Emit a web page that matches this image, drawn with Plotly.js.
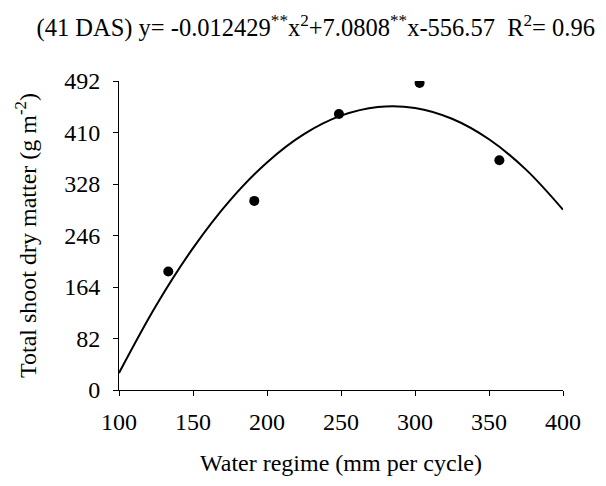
<!DOCTYPE html>
<html>
<head>
<meta charset="utf-8">
<script src="https://cdn.plot.ly/plotly-3.0.1.min.js"></script>
<style>html,body{margin:0;padding:0;background:#fff;}#chart{width:606px;height:486px;}</style>
</head>
<body>
<div id="chart"></div>
<script>
// Observed data points
const waterRegime = [133.3, 191.4, 248.6, 303.1, 357.0];
const shootDryMatter = [188.8, 301.1, 439.5, 488.8, 365.8];

// Fitted quadratic curve values (read at 25 mm steps)
const fitX = [100, 125, 150, 175, 200, 225, 250, 275, 300, 325, 350, 375, 400];
const fitY = [27.2, 134.3, 225.9, 301.9, 362.4, 407.4, 436.8, 450.7, 449.1, 431.9, 399.2, 350.9, 287.1];

const yTicks = [0, 82, 164, 246, 328, 410, 492];
const xTicks = [100, 150, 200, 250, 300, 350, 400];

const titleText = "(41 DAS) y= -0.012429<sup>**</sup>x<sup>2</sup>+7.0808<sup>**</sup>x-556.57  R<sup>2</sup>= 0.96";
const xTitle = "Water regime (mm per cycle)";
const yTitle = "Total shoot dry matter (g m<sup>-2</sup>)";

const font = "Liberation Serif, Times New Roman, serif";

const traces = [
  {x: fitX, y: fitY, mode: "lines", line: {color: "#000", width: 2, shape: "spline"}, hoverinfo: "skip"},
  {x: waterRegime, y: shootDryMatter, mode: "markers", marker: {color: "#000", size: 10}}
];

const layout = {
  width: 606, height: 486,
  margin: {l: 119, r: 43, t: 81, b: 96},
  paper_bgcolor: "#fff", plot_bgcolor: "#fff",
  showlegend: false,
  font: {family: font, color: "#000", size: 24},
  title: {text: titleText, x: 0.521, xanchor: "center", y: 0.944, yanchor: "middle", font: {family: font, size: 24.5, color: "#000"}},
  xaxis: {
    range: [100, 400], tickvals: xTicks, ticktext: xTicks.map(String),
    showgrid: false, zeroline: false, showline: true, linecolor: "#000", linewidth: 1,
    ticks: "outside", ticklen: 5, tickcolor: "#000", ticklabelstandoff: 5,
    tickfont: {family: font, size: 24, color: "#000"},
    title: {text: xTitle, font: {family: font, size: 24, color: "#000"}, standoff: 20}
  },
  yaxis: {
    range: [0, 492], tickvals: yTicks, ticktext: yTicks.map(String),
    showgrid: false, zeroline: false, showline: true, linecolor: "#000", linewidth: 1,
    ticks: "outside", ticklen: 5, tickcolor: "#000", ticklabelstandoff: 8,
    tickfont: {family: font, size: 24, color: "#000"},
    title: {text: yTitle, font: {family: font, size: 24, color: "#000"}, standoff: 20}
  }
};

Plotly.newPlot("chart", traces, layout, {displayModeBar: false, staticPlot: true});
</script>
</body>
</html>
